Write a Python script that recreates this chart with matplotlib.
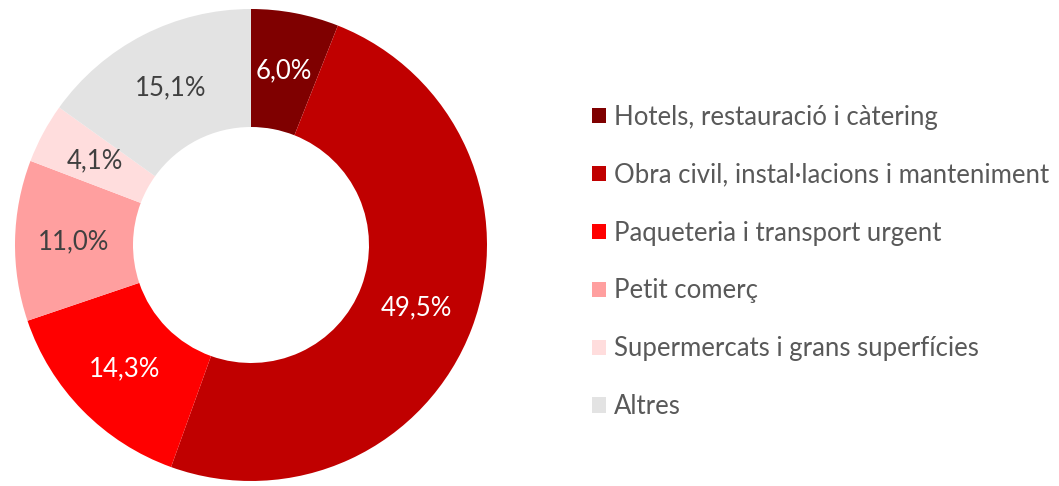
import matplotlib
matplotlib.use('Agg')
import matplotlib.pyplot as plt

categories = ['Hotels, restauració i càtering',
              'Obra civil, instal·lacions i manteniment',
              'Paqueteria i transport urgent',
              'Petit comerç',
              'Supermercats i grans superfícies',
              'Altres']
shares = [6.0, 49.5, 14.3, 11.0, 4.1, 15.1]
colors = ['#7F0000', '#C00000', '#FF0000', '#FF9F9F', '#FFDDDD', '#E3E3E3']
label_colors = ['white', 'white', 'white', '#404040', '#404040', '#404040']

plt.rcParams['font.family'] = ['Lato', 'DejaVu Sans']

fig = plt.figure(figsize=(10.59, 4.86), dpi=100)
ax = fig.add_axes([(251 - 236) / 1059, (486 - 245 - 236) / 486, 472 / 1059, 472 / 486])

wedges, texts, autotexts = ax.pie(
    shares, colors=colors, startangle=90, counterclock=False,
    radius=1, wedgeprops=dict(width=0.5, edgecolor='none'),
    autopct=lambda p: f'{p:.1f}%'.replace('.', ','), pctdistance=0.75,
    textprops=dict(fontsize=18.5))
for t, c in zip(autotexts, label_colors):
    t.set_color(c)
ax.set_xlim(-1, 1)
ax.set_ylim(-1, 1)

fig.legend(wedges, categories, loc='center left',
           bbox_to_anchor=(569 / 1059, 1 - 262 / 486), frameon=False,
           fontsize=18.5, labelcolor='#595959', labelspacing=1.28,
           handlelength=0.55, handleheight=0.55, handletextpad=0.3)

fig.savefig('out.png', dpi=100)
